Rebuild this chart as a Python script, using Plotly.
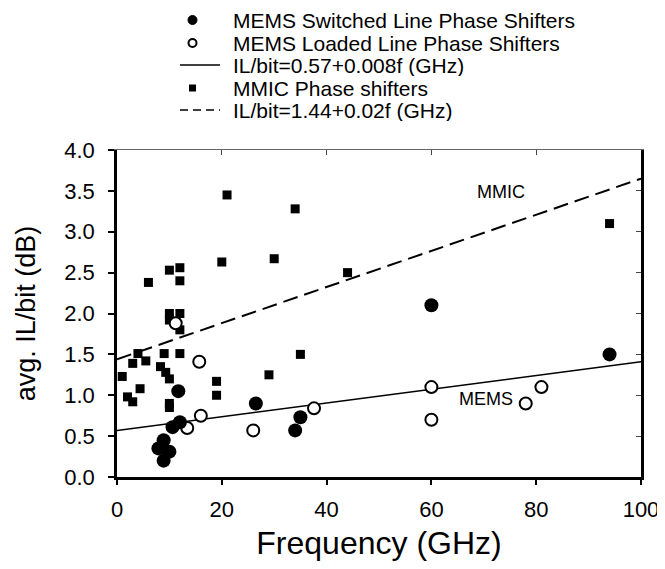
import plotly.graph_objects as go

FONT = "Arial, Liberation Sans, sans-serif"

# MEMS switched line phase shifters (filled circles)
sw_f = [60, 94, 26.5, 35, 34, 11.7, 12, 10.6, 8.9, 7.9, 10, 8.9]
sw_il = [2.10, 1.50, 0.90, 0.73, 0.57, 1.05, 0.67, 0.61, 0.45, 0.35, 0.31, 0.20]

# MEMS loaded line phase shifters (open circles)
ld_f = [60, 60, 81, 78, 26, 37.6, 11.2, 15.7, 13.4, 16]
ld_il = [1.10, 0.70, 1.10, 0.90, 0.57, 0.84, 1.88, 1.41, 0.60, 0.75]

# MMIC phase shifters (squares)
mm_f = [21, 34, 20, 30, 44, 35, 29, 19, 19, 94,
        10, 12, 12, 6,
        10, 12, 10, 12,
        4, 9, 12,
        3, 5.5, 8.3, 9.3, 10,
        1, 4.4, 2, 3, 10, 10]
mm_il = [3.45, 3.28, 2.63, 2.67, 2.50, 1.50, 1.25, 1.17, 1.00, 3.10,
         2.53, 2.56, 2.40, 2.38,
         2.00, 2.00, 1.92, 1.80,
         1.51, 1.51, 1.51,
         1.39, 1.42, 1.35, 1.28, 1.20,
         1.23, 1.08, 0.98, 0.92, 0.90, 0.85]

# fitted lines (as drawn)
mems_fit_f = [0, 100]
mems_fit_il = [0.57, 1.41]
mmic_fit_f = [0, 100]
mmic_fit_il = [1.44, 3.65]

names = ["MEMS Switched Line Phase Shifters",
         "MEMS Loaded Line Phase Shifters",
         "IL/bit=0.57+0.008f (GHz)",
         "MMIC Phase shifters",
         "IL/bit=1.44+0.02f (GHz)"]

x_ticks = [0, 20, 40, 60, 80, 100]
y_ticks = [0.0, 0.5, 1.0, 1.5, 2.0, 2.5, 3.0, 3.5, 4.0]

# layout geometry (pixels); page body adds an 8px offset
OFF = 8
W, H = 665 - OFF, 569 - 2 * OFF
ML, MR, MT, MB = 109, 24, 142, 84
PW, PH = W - ML - MR, H - MT - MB


def px(x):
    return (x - OFF - ML) / PW


def py(y):
    return (H - MB - (y - OFF)) / PH


fig = go.Figure()
fig.add_trace(go.Scatter(x=mems_fit_f, y=mems_fit_il, mode="lines", name=names[2],
                         line=dict(color="black", width=1.5)))
fig.add_trace(go.Scatter(x=mmic_fit_f, y=mmic_fit_il, mode="lines", name=names[4],
                         line=dict(color="black", width=2, dash="15px,7px")))
fig.add_trace(go.Scatter(x=mm_f, y=mm_il, mode="markers", name=names[3],
                         marker=dict(symbol="square", size=9, color="black")))
fig.add_trace(go.Scatter(x=ld_f, y=ld_il, mode="markers", name=names[1],
                         marker=dict(symbol="circle", size=12, color="white",
                                     line=dict(color="black", width=2))))
fig.add_trace(go.Scatter(x=sw_f, y=sw_il, mode="markers", name=names[0],
                         marker=dict(symbol="circle", size=14, color="black")))

# helper trace for overlay axes (top / right frame)
fig.add_trace(go.Scatter(x=[None], y=[None], xaxis="x2", yaxis="y2", hoverinfo="skip"))

# manual legend
rows = [20, 43, 65, 88, 110]
sx = 192.5
for name, ry in zip(names, rows):
    fig.add_annotation(xref="paper", yref="paper", x=px(231), y=py(ry), text=name,
                       showarrow=False, xanchor="left", yanchor="middle", height=22,
                       font=dict(family=FONT, size=21, color="black"))
# filled circle
fig.add_shape(type="circle", xref="paper", yref="paper", xsizemode="pixel", ysizemode="pixel",
              xanchor=px(sx), yanchor=py(rows[0]), x0=-4.5, x1=4.5, y0=-4.5, y1=4.5,
              fillcolor="black", line=dict(color="black", width=1))
# open circle
fig.add_shape(type="circle", xref="paper", yref="paper", xsizemode="pixel", ysizemode="pixel",
              xanchor=px(sx), yanchor=py(rows[1]), x0=-4, x1=4, y0=-4, y1=4,
              fillcolor="white", line=dict(color="black", width=2))
# solid line
fig.add_shape(type="line", xref="paper", yref="paper", x0=px(180), x1=px(220),
              y0=py(rows[2]), y1=py(rows[2]), line=dict(color="black", width=1.5))
# square
fig.add_shape(type="rect", xref="paper", yref="paper", xsizemode="pixel", ysizemode="pixel",
              xanchor=px(sx), yanchor=py(rows[3]), x0=-3.5, x1=3.5, y0=-3.5, y1=3.5,
              fillcolor="black", line=dict(color="black", width=0))
# dashed line
fig.add_shape(type="line", xref="paper", yref="paper", x0=px(180), x1=px(220),
              y0=py(rows[4]), y1=py(rows[4]), line=dict(color="black", width=1.5, dash="8px,5px"))

fig.add_annotation(x=73.3, y=3.49, text="MMIC", showarrow=False,
                   font=dict(family=FONT, size=18, color="black"))
fig.add_annotation(x=70.5, y=0.96, text="MEMS", showarrow=False,
                   font=dict(family=FONT, size=18, color="black"))

fig.update_layout(
    width=W, height=H,
    paper_bgcolor="white", plot_bgcolor="white",
    margin=dict(l=ML, r=MR, t=MT, b=MB, autoexpand=False),
    font=dict(family=FONT, color="black"),
    showlegend=False,
    xaxis=dict(range=[0, 100], tickvals=x_ticks, ticktext=[str(v) for v in x_ticks],
               ticks="outside", ticklen=5, tickwidth=1.5, tickcolor="black",
               showline=True, linewidth=2.5, linecolor="black", automargin=False,
               showgrid=False, zeroline=False, ticklabelstandoff=6,
               tickfont=dict(family=FONT, size=22),
               title=dict(text="Frequency (GHz)", font=dict(family=FONT, size=32), standoff=13)),
    yaxis=dict(range=[0, 4], tickvals=y_ticks, ticktext=["%.1f" % v for v in y_ticks],
               ticks="outside", ticklen=6, tickwidth=1.5, tickcolor="black",
               showline=True, linewidth=2.5, linecolor="black", automargin=False,
               showgrid=False, zeroline=False, ticklabelstandoff=9,
               tickfont=dict(family=FONT, size=22),
               title=dict(text="avg. IL/bit (dB)", font=dict(family=FONT, size=27), standoff=21)),
    xaxis2=dict(range=[0, 100], tickvals=x_ticks, overlaying="x", side="top",
                ticks="inside", ticklen=5, tickwidth=1, tickcolor="#444",
                showticklabels=False, showline=True, linewidth=1, linecolor="#666",
                showgrid=False, zeroline=False, automargin=False),
    yaxis2=dict(range=[0, 4], tickvals=y_ticks, overlaying="y", side="right",
                ticks="inside", ticklen=5, tickwidth=1, tickcolor="#444",
                showticklabels=False, showline=True, linewidth=2.5, linecolor="black",
                showgrid=False, zeroline=False, automargin=False),
)

fig.write_html("out.html")
